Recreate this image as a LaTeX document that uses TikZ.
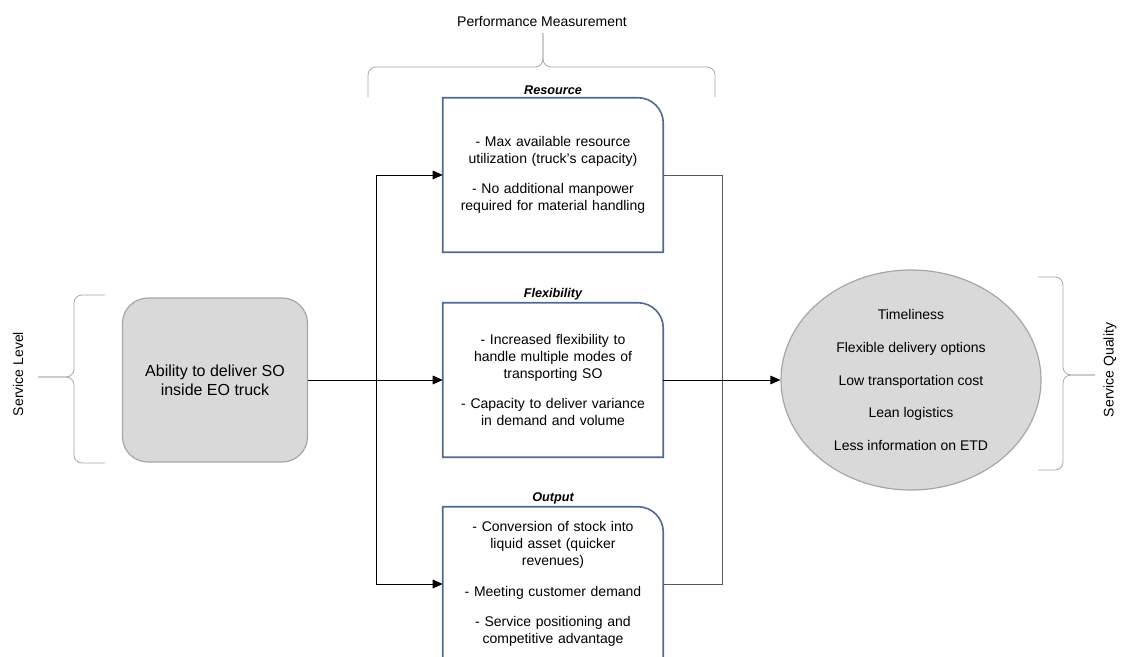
\documentclass[tikz,border=0pt]{standalone}
\usepackage{fontspec}
\setmainfont{Liberation Sans}
\usetikzlibrary{arrows.meta,positioning,shapes.geometric}
\definecolor{boxblue}{HTML}{4E6A92}
\definecolor{softgray}{HTML}{D9D9D9}
\definecolor{edgegray}{HTML}{A6A6A6}
\definecolor{bracegray}{HTML}{A8A8A8}
\tikzset{
  pmbox/.style={minimum width=220*0.75pt,minimum height=154*0.75pt,text width=200*0.75pt,align=center,
    inner sep=0pt,font=\fontsize{10.5}{12.75}\selectfont},
  pmlbl/.style={font=\fontsize{9.5}{11}\selectfont\bfseries\itshape,inner sep=1pt},
  bracket/.style={draw=bracegray,line width=0.6pt,rounded corners=6pt},
  arr/.style={draw=black,line width=0.75pt,-{Triangle[length=7.5pt,width=6.5pt]}},
  link/.style={draw=black!65,line width=0.75pt}
}
\begin{document}
\begin{tikzpicture}[x=0.75pt,y=-0.75pt]
        \clip (0,0) rectangle (1122,657);
        % service level input
        \node[draw=edgegray,fill=softgray,line width=0.9pt,rounded corners=19pt,minimum width=185*0.75pt,
          minimum height=164*0.75pt,align=center,font=\fontsize{12}{14}\selectfont] (ability) at (215,380)
          {Ability to deliver SO\\inside EO truck};
        % performance measurement boxes
        \node[pmbox] (res) at (553,175) {- Max available resource\\utilization (truck's capacity)\\[10pt]
          - No additional manpower\\required for material handling};
        \node[pmbox] (flex) at (553,380) {- Increased flexibility to\\handle multiple modes of\\transporting SO\\[10pt]
          - Capacity to deliver variance\\in demand and volume};
        \node[pmbox] (out) at (553,584) {- Conversion of stock into\\liquid asset (quicker\\revenues)\\[10pt]
          - Meeting customer demand\\[10pt]
          - Service positioning and\\competitive advantage};
        \foreach \n in {res,flex,out}
          \draw[boxblue,line width=1.2pt] (\n.south west) -- (\n.north west) -- ([xshift=-19pt]\n.north east)
            arc[start angle=90,end angle=0,radius=19pt] -- (\n.south east) -- cycle;
        \node[pmlbl,above=1pt of res] {Resource};
        \node[pmlbl,above=1pt of flex] {Flexibility};
        \node[pmlbl,above=1pt of out] {Output};
        % service quality
        \node[draw=edgegray,fill=softgray,line width=0.9pt,ellipse,minimum width=260*0.75pt,
          minimum height=220*0.75pt,align=center,inner sep=0pt,font=\fontsize{10.5}{12.6}\selectfont] (qual) at (911,380)
          {Timeliness\\[12pt]Flexible delivery options\\[12pt]Low transportation cost\\[12pt]Lean logistics\\[12pt]Less information on ETD};
        % connectors
        \coordinate (fork) at (376,380);
        \coordinate (join) at (722,380);
        \draw[arr] (ability) -- (flex);
        \draw[arr] (fork) |- (res.west);
        \draw[arr] (fork) |- (out.west);
        \draw[link] (res.east) -| (join);
        \draw[link] (out.east) -| (join);
        \draw[arr] (flex) -- (qual);
        % braces and headings
        \draw[bracket] (368,97) |- (543,67) -- (543,33);
        \draw[bracket] (715,97) |- (543,67) -- (543,33);
        \draw[bracket] (105,295) -| (74,377) -- (38,377);
        \draw[bracket] (105,463) -| (74,377) -- (38,377);
        \draw[bracket] (1038,277) -| (1063,375) -- (1095,375);
        \draw[bracket] (1038,470) -| (1063,375) -- (1095,375);
        \node[font=\fontsize{10.5}{12}\selectfont] (pm) at (542,22) {Performance Measurement};
        \node[font=\fontsize{10.5}{12}\selectfont,rotate=90] (sl) at (18,374) {Service Level};
        \node[font=\fontsize{10.5}{12}\selectfont,rotate=90] (sq) at (1110,370) {Service Quality};
\end{tikzpicture}
\end{document}
